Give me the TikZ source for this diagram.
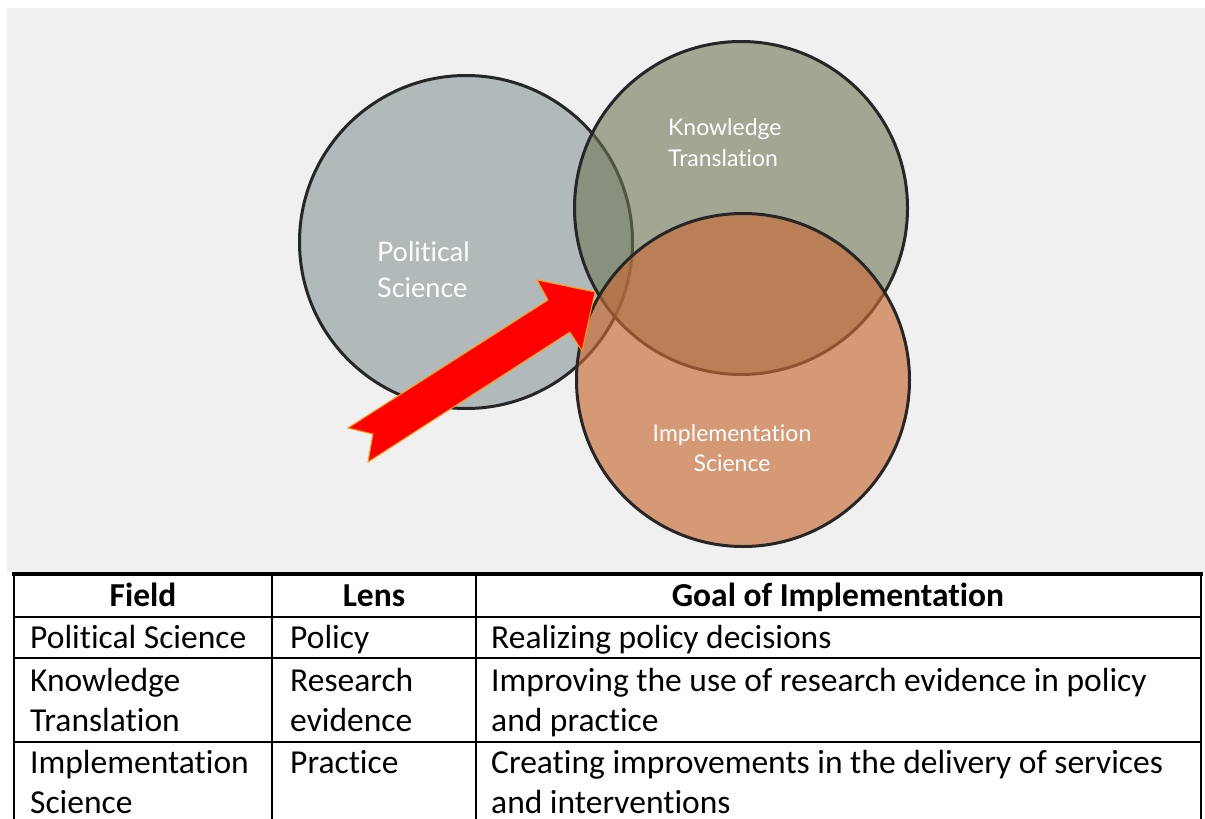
\documentclass[tikz,border=0pt]{standalone}
\usepackage{fontspec}
\setmainfont[Ligatures=NoCommon]{Carlito}
\newfontfamily\vennfont[Ligatures=NoCommon]{Lato}

\definecolor{panelgray}{RGB}{240,240,240}
\definecolor{polgray}{RGB}{178,185,187}
\definecolor{ktgreen}{RGB}{109,119,85}
\definecolor{isorange}{RGB}{200,107,54}
\definecolor{arrowedge}{RGB}{245,160,0}

\begin{document}
\begin{tikzpicture}[x=1pt,y=-1pt]
        \useasboundingbox (0,0) rectangle (1205,819);
        \clip (0,0) rectangle (1205,819);
        \fill[panelgray] (7,8) rectangle (1205,572);

        % the three fields
        \begin{scope}[every node/.style={circle,draw=black!85,line width=3pt,minimum size=333pt,inner sep=0pt}]
            \node[fill=polgray] (ps) at (466,242) {};
            \node[fill=ktgreen,fill opacity=0.6] (kt) at (741,208) {};
            \node[fill=isorange,fill opacity=0.65] (is) at (743,380) {};
        \end{scope}

        % big arrow pointing into the overlap
        \fill[red,draw=arrowedge,line width=1pt,line join=miter]
            (348,428) -- (548,300) -- (537,280) -- (595,292) -- (582,351)
            -- (570,332) -- (368,462) -- (373,434) -- cycle;

        \begin{scope}[every node/.style={text=white,inner sep=0pt}]
            \node[align=left,anchor=base west,font=\vennfont\fontsize{27}{36}\selectfont] (pslabel) at (377,297) {Political\\Science};
            \node[align=left,anchor=base west,font=\vennfont\fontsize{23}{31}\selectfont] (ktlabel) at (668,166) {Knowledge\\Translation};
            \node[align=center,anchor=base,font=\vennfont\fontsize{23}{30}\selectfont] (islabel) at (732,471) {Implementation\\Science};
        \end{scope}

        % table
        \fill[white] (13,572) rectangle (1203,830);
        \begin{scope}[line width=2.4pt]
            \draw (14,830) -- (14,574) -- (1201,574) -- (1201,830);
            \draw (14,617) -- (1201,617);
            \draw (14,658) -- (1201,658);
            \draw (14,742) -- (1201,742);
            \draw (272,574) -- (272,830);
            \draw (476,574) -- (476,830);
        \end{scope}
        \draw[line width=3.5pt] (12,574) -- (1203,574);

        % multi-line cells sit on the baseline of their last line
        \begin{scope}[every node/.style={inner sep=0pt,font=\fontsize{33.5}{40}\selectfont}]
            \node[anchor=base,font=\bfseries\fontsize{33.5}{40}\selectfont] (hfield) at (143,606) {Field};
            \node[anchor=base,font=\bfseries\fontsize{33.5}{40}\selectfont] (hlens) at (374,606) {Lens};
            \node[anchor=base,font=\bfseries\fontsize{33.5}{40}\selectfont] (hgoal) at (838,606) {Goal of Implementation};

            \node[anchor=base west] (f1) at (30,648) {Political Science};
            \node[anchor=base west] (l1) at (290,648) {Policy};
            \node[anchor=base west] (g1) at (491,648) {Realizing policy decisions};

            \node[anchor=base west,align=left] (f2) at (30,731) {Knowledge\\Translation};
            \node[anchor=base west,align=left] (l2) at (290,731) {Research\\evidence};
            \node[anchor=base west,align=left] (g2) at (491,731) {Improving the use of research evidence in policy\\and practice};

            \node[anchor=base west,align=left] (f3) at (30,813) {Implementation\\Science};
            \node[anchor=base west] (l3) at (290,773) {Practice};
            \node[anchor=base west,align=left] (g3) at (491,813) {Creating improvements in the delivery of services\\and interventions};
        \end{scope}
    \end{tikzpicture}
\end{document}
